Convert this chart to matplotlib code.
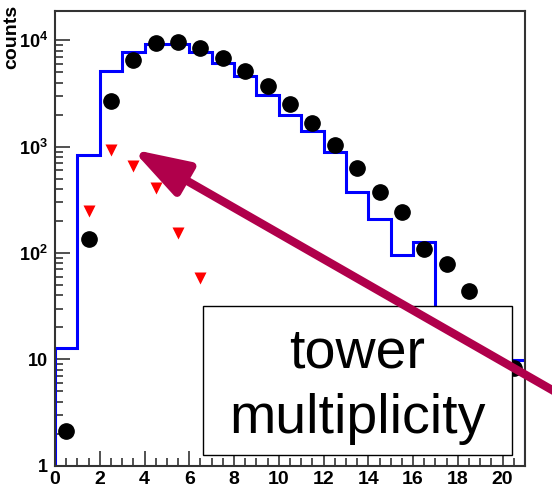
import matplotlib
matplotlib.use("Agg")
import matplotlib.pyplot as plt
import numpy as np
from matplotlib.patches import Rectangle, FancyArrowPatch
from matplotlib.ticker import FixedLocator, MultipleLocator, NullFormatter

plt.rcParams['font.family'] = ['Liberation Sans', 'DejaVu Sans']
plt.rcParams['mathtext.fontset'] = 'custom'
plt.rcParams['mathtext.rm'] = 'Liberation Sans:bold'
plt.rcParams['mathtext.bf'] = 'Liberation Sans:bold'
plt.rcParams['mathtext.default'] = 'bf'

# data
bin_edges = np.arange(0, 22)
hist_counts = [12.7, 828, 5150, 7710, 9310, 9310, 7710, 6130, 4580, 3080, 2000,
               1390, 890, 374, 208, 96, 128, 20, 25, 15, 9.8]
dot_x = np.arange(0.5, 21, 1.0)
dot_counts = [2.1, 136, 2700, 6580, 9450, 9580, 8480, 6830, 5190, 3690, 2520,
              1670, 1040, 630, 371, 243, 109, 79, 44, 20, 8.3]
tri_x = [1.5, 2.5, 3.5, 4.5, 5.5, 6.5]
tri_counts = [246, 922, 652, 408, 154, 58]
xtick_vals = [0, 2, 4, 6, 8, 10, 12, 14, 16, 18, 20]
ytick_vals = [1, 10, 100, 1000, 10000]
ytick_labels = ['1', '10', r'$10^{2}$', r'$10^{3}$', r'$10^{4}$']

W, H = 552, 487
fig = plt.figure(figsize=(W / 100, H / 100), dpi=100)
ax = fig.add_axes([55 / W, 1 - 465.7 / H, 470 / W, 455 / H])

ax.stairs(hist_counts, bin_edges, color='#0000ff', lw=2.2, zorder=2)
ax.plot(dot_x, dot_counts, 'o', color='black', ms=11, zorder=3)
ax.plot(tri_x, tri_counts, 'v', color='#ff0000', ms=9, mec='none', zorder=3)

ax.set_yscale('log')
ax.set_xlim(0, 21)
ax.set_ylim(1, 1.9e4)

ax.xaxis.set_major_locator(FixedLocator(xtick_vals))
ax.xaxis.set_minor_locator(MultipleLocator(0.5))
ax.yaxis.set_major_locator(FixedLocator(ytick_vals))
ax.set_yticklabels(ytick_labels)
ax.yaxis.set_minor_formatter(NullFormatter())

for s in ax.spines.values():
    s.set_color('#333333')
    s.set_linewidth(1.5)

ax.tick_params(which='both', direction='in', top=False, right=False,
               color='#333333', width=1.2)
ax.tick_params(which='major', length=11, labelsize=14, pad=4)
ax.tick_params(which='minor', length=5.5)
ax.tick_params(axis='y', which='major', pad=5, labelsize=13)
for lab in ax.get_xticklabels() + ax.get_yticklabels():
    lab.set_fontweight('bold')

fig.text(12 / W, 1 - 5 / H, 'counts', rotation=90, ha='center', va='top',
         fontsize=14, fontweight='bold')

# label box
bx0, by0, bx1, by1 = 203, 305.7, 512, 455
box = Rectangle((bx0 / W, 1 - by1 / H), (bx1 - bx0) / W, (by1 - by0) / H,
                transform=fig.transFigure, facecolor='white', edgecolor='black',
                lw=1.0, zorder=5)
fig.add_artist(box)
fig.text(357 / W, 1 - 368 / H, 'tower', ha='center', va='baseline',
         fontsize=40, zorder=6)
fig.text(357 / W, 1 - 433 / H, 'multiplicity', ha='center', va='baseline',
         fontsize=40, zorder=6)

# arrow
arrow = FancyArrowPatch((580 / W, 1 - 406 / H), (132 / W, 1 - 149.3 / H),
                        transform=fig.transFigure,
                        arrowstyle='-|>,head_length=3.4,head_width=1.1',
                        mutation_scale=10, lw=6, color='#b0004b',
                        shrinkA=0, shrinkB=0, zorder=7, clip_on=False)
fig.add_artist(arrow)

fig.savefig('out.png', dpi=100)
